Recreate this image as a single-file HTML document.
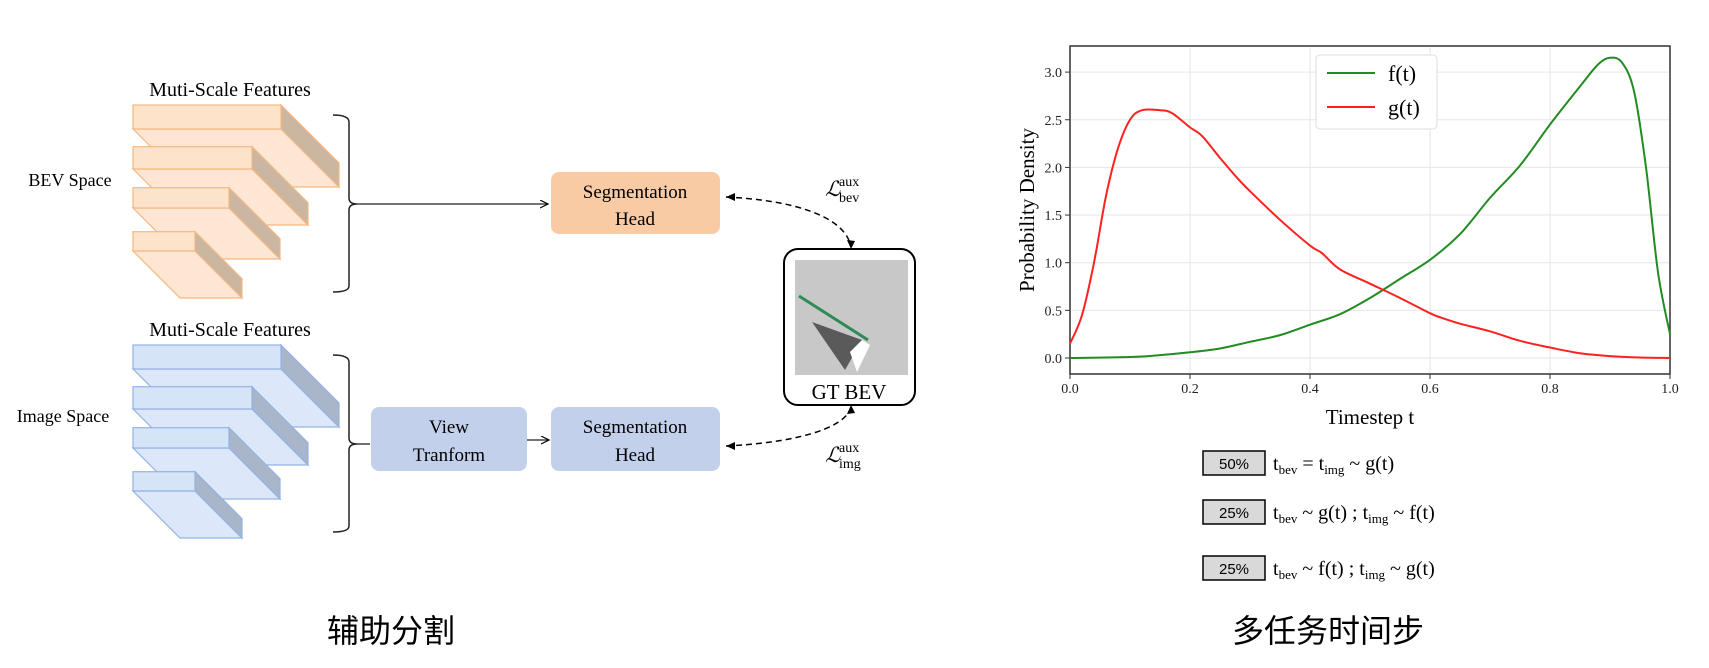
<!DOCTYPE html>
<html><head><meta charset="utf-8">
<style>
body{margin:0;background:#fff;width:1709px;height:668px;overflow:hidden;font-family:"Liberation Serif","Noto Serif CJK SC",serif;}
svg{display:block}
</style></head>
<body>
<svg id="root" width="1709" height="668" viewBox="0 0 1709 668" xmlns="http://www.w3.org/2000/svg">
<defs>
<marker id="ah" markerWidth="10" markerHeight="10" refX="8" refY="4" orient="auto" markerUnits="userSpaceOnUse"><path d="M0,0 L8,4 L0,8" fill="none" stroke="#000" stroke-width="1.2"/></marker>
</defs>
<g id="left" font-family="Liberation Serif, serif" fill="#000">
  <text x="230" y="96" font-size="20" text-anchor="middle">Muti-Scale Features</text>
  <text x="70" y="186" font-size="18" text-anchor="middle">BEV Space</text>
  <text x="230" y="336" font-size="20" text-anchor="middle">Muti-Scale Features</text>
  <text x="63" y="422" font-size="18" text-anchor="middle">Image Space</text>
  <g id="bevLayers"></g>
  <g id="imgLayers"></g>
  <path d="M333,115 Q349,115 349,122 L349,198 Q349,204 357,204 Q349,204 349,210 L349,286 Q349,292 333,292" fill="none" stroke="#222" stroke-width="1.5"/>
  <path d="M333,355 Q349,355 349,362 L349,438 Q349,444 357,444 Q349,444 349,450 L349,526 Q349,532 333,532" fill="none" stroke="#222" stroke-width="1.5"/>
  <line x1="357" y1="204" x2="548" y2="204" stroke="#222" stroke-width="1.3" marker-end="url(#ah)"/>
  <line x1="357" y1="444" x2="370" y2="444" stroke="#222" stroke-width="1.3"/>
  <line x1="527" y1="440" x2="549" y2="440" stroke="#222" stroke-width="1.3" marker-end="url(#ah)"/>
  <g>
    <rect x="551" y="172" width="169" height="62" rx="8" fill="#f8cba5"/>
    <text x="635" y="198" font-size="19" text-anchor="middle">Segmentation</text>
    <text x="635" y="225" font-size="19" text-anchor="middle">Head</text>
  </g>
  <g>
    <rect x="371" y="407" width="156" height="64" rx="8" fill="#c3d0ec"/>
    <text x="449" y="433" font-size="19" text-anchor="middle">View</text>
    <text x="449" y="461" font-size="19" text-anchor="middle">Tranform</text>
  </g>
  <g>
    <rect x="551" y="407" width="169" height="64" rx="8" fill="#c3d0ec"/>
    <text x="635" y="433" font-size="19" text-anchor="middle">Segmentation</text>
    <text x="635" y="461" font-size="19" text-anchor="middle">Head</text>
  </g>
  <g>
    <rect x="784" y="249" width="131" height="156" rx="14" fill="#fff" stroke="#000" stroke-width="2"/>
    <rect x="795" y="260" width="113" height="115" fill="#c8c8c8"/>
    <polygon points="812,322 862,340 845,370" fill="#5a5a5a"/>
    <polygon points="850,352 862,340 870,345 857,372" fill="#fff"/>
    <line x1="799" y1="296" x2="868" y2="340" stroke="#2e8b57" stroke-width="3"/>
    <text x="849" y="399" font-size="21" text-anchor="middle">GT BEV</text>
  </g>
  <path d="M726,197 C790,200 845,215 851,247" fill="none" stroke="#000" stroke-width="1.5" stroke-dasharray="6,4"/>
  <path d="M726,446 C790,443 845,430 851,407" fill="none" stroke="#000" stroke-width="1.5" stroke-dasharray="6,4"/>
  <polygon points="726,197 735,193 735,201" fill="#000"/><polygon points="851,249 847,240 855,241" fill="#000"/>
  <polygon points="726,446 735,442 735,450" fill="#000"/><polygon points="851,405 847,414 855,413" fill="#000"/>
  <g><text x="825" y="196" font-size="21" font-style="italic">ℒ</text><text x="839" y="186" font-size="14">aux</text><text x="839" y="202" font-size="14">bev</text></g>
  <g><text x="825" y="462" font-size="21" font-style="italic">ℒ</text><text x="839" y="452" font-size="14">aux</text><text x="839" y="468" font-size="14">img</text></g>
  <text x="391" y="642" font-size="32" text-anchor="middle" font-family="Noto Sans CJK SC, sans-serif">辅助分割</text>
</g>
<g id="chart"></g>
<g font-family="Liberation Serif, serif">
  <g><rect x="1203" y="451" width="62" height="24" fill="#d9d9d9" stroke="#000" stroke-width="1.5"/><text x="1234" y="469" font-size="15" text-anchor="middle" font-family="Liberation Sans, sans-serif">50%</text>
  <text x="1273" y="470" font-size="20">t<tspan font-size="13" dy="4">bev</tspan><tspan dy="-4"> = t</tspan><tspan font-size="13" dy="4">img</tspan><tspan dy="-4"> ~ g(t)</tspan></text></g>
  <g><rect x="1203" y="500" width="62" height="24" fill="#d9d9d9" stroke="#000" stroke-width="1.5"/><text x="1234" y="518" font-size="15" text-anchor="middle" font-family="Liberation Sans, sans-serif">25%</text>
  <text x="1273" y="519" font-size="20">t<tspan font-size="13" dy="4">bev</tspan><tspan dy="-4"> ~ g(t) ; t</tspan><tspan font-size="13" dy="4">img</tspan><tspan dy="-4"> ~ f(t)</tspan></text></g>
  <g><rect x="1203" y="556" width="62" height="24" fill="#d9d9d9" stroke="#000" stroke-width="1.5"/><text x="1234" y="574" font-size="15" text-anchor="middle" font-family="Liberation Sans, sans-serif">25%</text>
  <text x="1273" y="575" font-size="20">t<tspan font-size="13" dy="4">bev</tspan><tspan dy="-4"> ~ f(t) ; t</tspan><tspan font-size="13" dy="4">img</tspan><tspan dy="-4"> ~ g(t)</tspan></text></g>
  <text x="1328" y="642" font-size="32" text-anchor="middle" font-family="Noto Sans CJK SC, sans-serif">多任务时间步</text>
</g>
</svg>
<script>
const NS="http://www.w3.org/2000/svg";
const gT=[0,0.02,0.04,0.06,0.08,0.1,0.12,0.15,0.17,0.2,0.22,0.25,0.28,0.3,0.35,0.4,0.42,0.45,0.5,0.55,0.6,0.62,0.65,0.7,0.75,0.8,0.85,0.9,0.95,1.0];
const gVals=[0.15,0.45,1.0,1.7,2.2,2.5,2.6,2.6,2.57,2.42,2.33,2.1,1.88,1.75,1.45,1.18,1.1,0.93,0.78,0.63,0.47,0.42,0.36,0.28,0.18,0.11,0.05,0.02,0.005,0];
const fT=[0,0.1,0.15,0.2,0.25,0.3,0.35,0.4,0.45,0.5,0.55,0.6,0.65,0.7,0.75,0.8,0.85,0.88,0.9,0.92,0.94,0.96,0.98,1.0];
const fVals=[0,0.01,0.03,0.06,0.1,0.17,0.24,0.35,0.46,0.63,0.83,1.03,1.3,1.68,2.02,2.45,2.85,3.08,3.15,3.1,2.8,2.0,0.9,0.25];
const xTicks=["0.0","0.2","0.4","0.6","0.8","1.0"];
const yTicks=["0.0","0.5","1.0","1.5","2.0","2.5","3.0"];
const X0=1070,X1=1670,Y0=358,PPU=95.3;
const xs=v=>X0+v*(X1-X0), ys=v=>Y0-v*PPU;
function mk(tag,attrs,parent){const e=document.createElementNS(NS,tag);for(const k in attrs)e.setAttribute(k,attrs[k]);parent.appendChild(e);return e;}
const ch=document.getElementById('chart');
mk('rect',{x:X0,y:46,width:X1-X0,height:328,fill:'#fff',stroke:'#333','stroke-width':1.3},ch);
xTicks.forEach(t=>{const v=+t;
 const l=mk('line',{x1:xs(v),x2:xs(v),y1:46,y2:374,stroke:'#e6e6e6','stroke-width':1},ch);
 
 
 mk('line',{x1:xs(v),x2:xs(v),y1:374,y2:379,stroke:'#333'},ch);
 const tx=mk('text',{x:xs(v),y:393,'font-size':14,'text-anchor':'middle',fill:'#222'},ch);tx.textContent=t;
 
 
});
yTicks.forEach(t=>{const v=+t;
 const l=mk('line',{x1:X0,x2:X1,y1:ys(v),y2:ys(v),stroke:'#e6e6e6','stroke-width':1},ch);
 
 
 mk('line',{x1:X0-5,x2:X0,y1:ys(v),y2:ys(v),stroke:'#333'},ch);
 const tx=mk('text',{x:X0-8,y:ys(v)+5,'font-size':14,'text-anchor':'end',fill:'#222'},ch);tx.textContent=t;
 
 
});
mk('rect',{x:X0,y:46,width:X1-X0,height:328,fill:'none',stroke:'#333','stroke-width':1.3},ch);
function smooth(T,V){const p=T.map((t,i)=>[xs(t),ys(V[i])]);let d=`M${p[0][0]},${p[0][1]}`;
 for(let i=0;i<p.length-1;i++){const a=p[i-1]||p[i],b=p[i],c=p[i+1],e=p[i+2]||c;
  d+=` C${b[0]+(c[0]-a[0])/6},${b[1]+(c[1]-a[1])/6} ${c[0]-(e[0]-b[0])/6},${c[1]-(e[1]-b[1])/6} ${c[0]},${c[1]}`;}return d;}
const fl=mk('path',{d:smooth(fT,fVals),fill:'none',stroke:'#228b22','stroke-width':2},ch);


const gl=mk('path',{d:smooth(gT,gVals),fill:'none',stroke:'#ff2020','stroke-width':2},ch);


const xl=mk('text',{x:1370,y:424,'font-size':21,'text-anchor':'middle'},ch);xl.textContent='Timestep t';


const yl=mk('text',{x:0,y:0,'font-size':21,'text-anchor':'middle',transform:'translate(1034,210) rotate(-90)'},ch);yl.textContent='Probability Density';


const lg=mk('g',{},ch);


mk('rect',{x:1316,y:55,width:121,height:74,rx:4,fill:'#fff',stroke:'#ddd'},lg);
mk('line',{x1:1327,x2:1375,y1:73,y2:73,stroke:'#228b22','stroke-width':2},lg);
mk('line',{x1:1327,x2:1375,y1:107,y2:107,stroke:'#ff2020','stroke-width':2},lg);
const t1=mk('text',{x:1388,y:81,'font-size':22},lg);t1.textContent='f(t)';
const t2=mk('text',{x:1388,y:115,'font-size':22},lg);t2.textContent='g(t)';
const layers=[[133,281,105,129,58],[133,252,146.7,169,56],[133,229,187.7,208,51],[133,195,231.7,251,47]];
function stack(id,off,face,top,side,stroke){const g=document.getElementById(id);
 layers.forEach(L=>{const [x0,x1,y0,y1,d]=L;const o=off;
  mk('polygon',{points:`${x0},${y1+o} ${x1},${y1+o} ${x1+d},${y1+d+o} ${x0+d},${y1+d+o}`,fill:face,stroke:stroke,'stroke-width':1.2},g);
  mk('polygon',{points:`${x1},${y0+o} ${x1+d},${y0+d+o} ${x1+d},${y1+d+o} ${x1},${y1+o}`,fill:side,stroke:stroke,'stroke-width':1.2},g);
  mk('rect',{x:x0,y:y0+o,width:x1-x0,height:y1-y0,fill:top,stroke:stroke,'stroke-width':1.2},g);
 });}
stack('bevLayers',0,'#fde6d3','#fde3c9','#cbb6a2','#f5b782');
stack('imgLayers',240,'#dce8fa','#d6e4f8','#a9b6c9','#93b2e4');
</script>
</body></html>
